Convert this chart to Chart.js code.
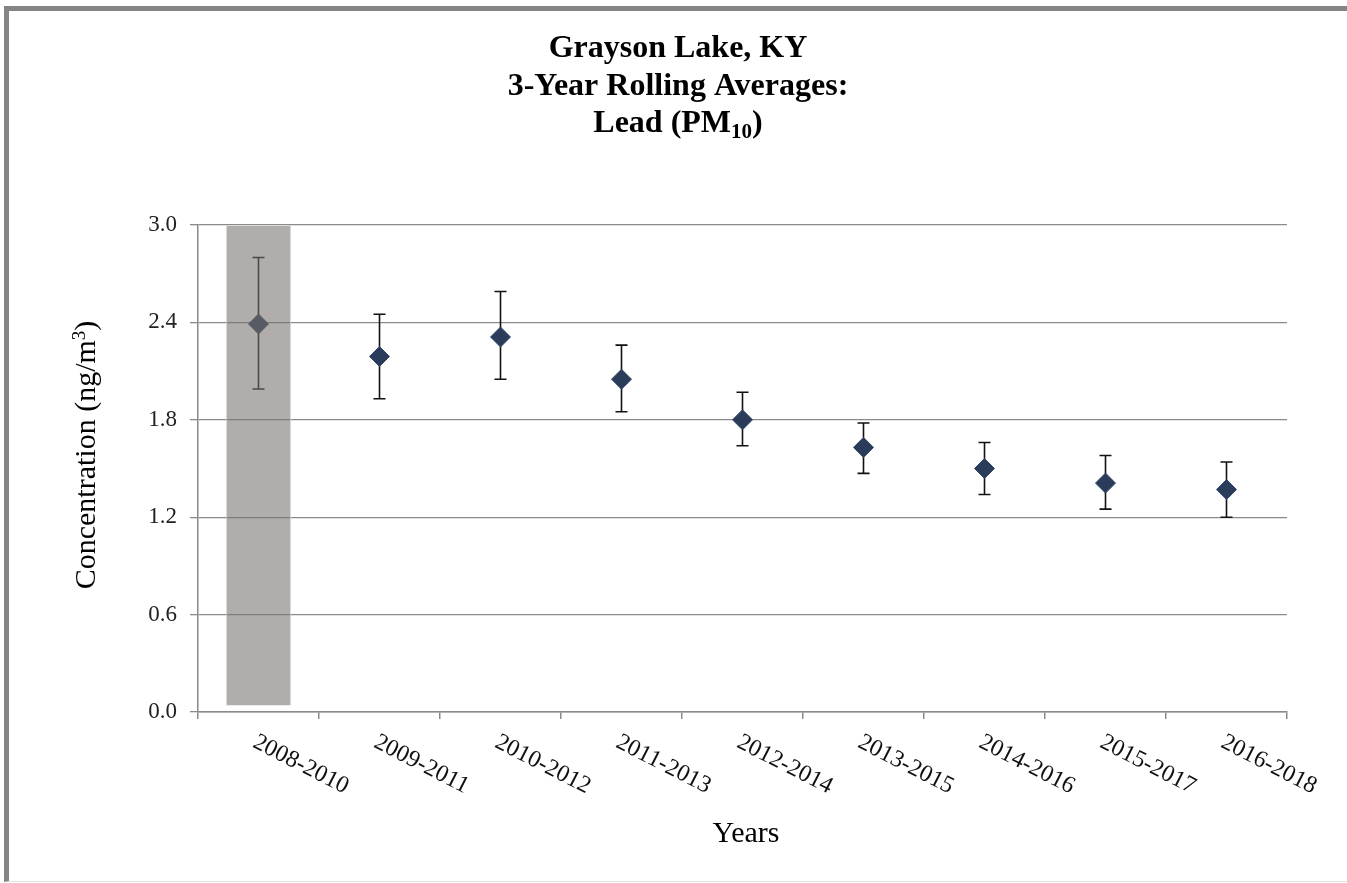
<!DOCTYPE html>
<html>
<head>
<meta charset="utf-8">
<script src="https://cdn.jsdelivr.net/npm/chart.js@4/dist/chart.umd.min.js"></script>
<style>
  html, body { margin: 0; padding: 0; background: #ffffff; }
  #wrap { position: relative; width: 1347px; height: 883px; overflow: hidden; background: #fff; }
  #frame { position: absolute; left: 4px; top: 6px; right: -10px; bottom: 1px;
           border-left: 5px solid #858585; border-top: 5px solid #858585;
           border-bottom: 1px solid #e4e4e4; pointer-events: none; }
  #chart { position: absolute; left: 0; top: 0; }
</style>
</head>
<body>
<div id="wrap">
  <canvas id="chart" width="1347" height="883"></canvas>
  <div id="frame"></div>
</div>
<script>
// Three-year rolling periods
const periods = ['2008-2010', '2009-2011', '2010-2012', '2011-2013', '2012-2014',
                 '2013-2015', '2014-2016', '2015-2017', '2016-2018'];
// Rolling average lead concentration (ng/m3)
const averages = [2.39, 2.19, 2.31, 2.05, 1.80, 1.63, 1.50, 1.41, 1.37];
// Confidence interval bounds
const upperBounds = [2.80, 2.45, 2.59, 2.26, 1.97, 1.78, 1.66, 1.58, 1.54];
const lowerBounds = [1.99, 1.93, 2.05, 1.85, 1.64, 1.47, 1.34, 1.25, 1.20];
// Shaded period (incomplete data window)
const shadedRange = [[0.04, 3.0], null, null, null, null, null, null, null, null];
// Y axis ticks
const yTicks = [0.0, 0.6, 1.2, 1.8, 2.4, 3.0];

const SERIF = '"Liberation Serif", "Times New Roman", serif';
const GRID = '#8a8a8a';

const errorBars = {
  id: 'errorBars',
  beforeDatasetsDraw(chart) {
    const { ctx, scales: { x, y } } = chart;
    ctx.save();
    ctx.strokeStyle = '#111111';
    ctx.lineWidth = 1.6;
    periods.forEach((p, i) => {
      const px = x.getPixelForValue(i);
      const top = y.getPixelForValue(upperBounds[i]);
      const bot = y.getPixelForValue(lowerBounds[i]);
      ctx.beginPath();
      ctx.moveTo(px, top); ctx.lineTo(px, bot);
      ctx.moveTo(px - 6, top); ctx.lineTo(px + 6, top);
      ctx.moveTo(px - 6, bot); ctx.lineTo(px + 6, bot);
      ctx.stroke();
    });
    ctx.restore();
  }
};

const labels = {
  id: 'labels',
  afterDraw(chart) {
    const { ctx, scales: { x } } = chart;
    ctx.save();
    ctx.fillStyle = '#000000';

    // Title block
    const cx = 678;
    ctx.textBaseline = 'alphabetic';
    ctx.textAlign = 'center';
    ctx.font = 'bold 32px ' + SERIF;
    ctx.fillText('Grayson Lake, KY', cx, 57);
    ctx.fillText('3-Year Rolling Averages:', cx, 95);
    const a = 'Lead (PM', sub = '10', b = ')';
    const wA = ctx.measureText(a).width, wB = ctx.measureText(b).width;
    ctx.font = 'bold 21px ' + SERIF;
    const wS = ctx.measureText(sub).width;
    const sx = cx - (wA + wS + wB) / 2;
    ctx.textAlign = 'left';
    ctx.font = 'bold 32px ' + SERIF;
    ctx.fillText(a, sx, 132);
    ctx.font = 'bold 21px ' + SERIF;
    ctx.fillText(sub, sx + wA, 138);
    ctx.font = 'bold 32px ' + SERIF;
    ctx.fillText(b, sx + wA + wS, 132);

    // Category labels, slanted
    ctx.font = '24px ' + SERIF;
    ctx.fillStyle = '#111111';
    ctx.textAlign = 'left';
    ctx.textBaseline = 'middle';
    periods.forEach((p, i) => {
      const px = x.getPixelForValue(i);
      ctx.save();
      ctx.translate(px - 4, 741);
      ctx.rotate(27 * Math.PI / 180);
      ctx.fillText(p, 0, 0);
      ctx.restore();
    });

    // X axis title
    ctx.fillStyle = '#000000';
    ctx.font = '30px ' + SERIF;
    ctx.textAlign = 'center';
    ctx.textBaseline = 'alphabetic';
    ctx.fillText('Years', 746, 842);

    // Y axis title with superscript
    ctx.save();
    ctx.translate(95, 455);
    ctx.rotate(-Math.PI / 2);
    const t1 = 'Concentration (ng/m', t2 = '3', t3 = ')';
    ctx.font = '30px ' + SERIF;
    const w1 = ctx.measureText(t1).width, w3 = ctx.measureText(t3).width;
    ctx.font = '19px ' + SERIF;
    const w2 = ctx.measureText(t2).width;
    const tx = -(w1 + w2 + w3) / 2;
    ctx.textAlign = 'left';
    ctx.font = '30px ' + SERIF;
    ctx.fillText(t1, tx, 0);
    ctx.font = '19px ' + SERIF;
    ctx.fillText(t2, tx + w1, -10);
    ctx.font = '30px ' + SERIF;
    ctx.fillText(t3, tx + w1 + w2, 0);
    ctx.restore();

    ctx.restore();
  }
};

new Chart(document.getElementById('chart'), {
  type: 'bar',
  data: {
    labels: periods,
    datasets: [
      {
        type: 'bar',
        data: shadedRange,
        backgroundColor: 'rgba(120,113,108,0.58)',
        borderColor: 'rgba(225,220,212,0.9)',
        borderWidth: 1,
        barPercentage: 0.54,
        categoryPercentage: 1,
        order: 1
      },
      {
        type: 'line',
        data: averages,
        showLine: false,
        pointStyle: 'rectRot',
        pointRadius: 10,
        pointHoverRadius: 10,
        pointBackgroundColor: '#2b3b5a',
        pointBorderColor: '#33466a',
        pointBorderWidth: 1,
        order: 2
      }
    ]
  },
  options: {
    responsive: false,
    animation: false,
    devicePixelRatio: 1,
    layout: { padding: { top: 225, right: 60, left: 0, bottom: 0 } },
    plugins: { legend: { display: false }, tooltip: { enabled: false }, title: { display: false } },
    scales: {
      x: {
        offset: true,
        grid: { display: true, offset: true, drawOnChartArea: false, drawTicks: true,
                tickLength: 7, color: GRID, lineWidth: 1.5 },
        border: { display: true, color: GRID, width: 1.5 },
        ticks: { display: false },
        afterFit(s) { s.height = 883 - 712; }
      },
      y: {
        min: 0, max: 3,
        afterBuildTicks(s) { s.ticks = yTicks.map(v => ({ value: v })); },
        grid: { color: GRID, lineWidth: 1.3, tickLength: 8, drawTicks: true },
        border: { display: true, color: GRID, width: 1.5 },
        ticks: {
          font: { family: SERIF, size: 23 },
          color: '#222222',
          padding: 13,
          callback: v => Number(v).toFixed(1)
        },
        afterFit(s) { s.width = 198; }
      }
    }
  },
  plugins: [errorBars, labels]
});
</script>
</body>
</html>
